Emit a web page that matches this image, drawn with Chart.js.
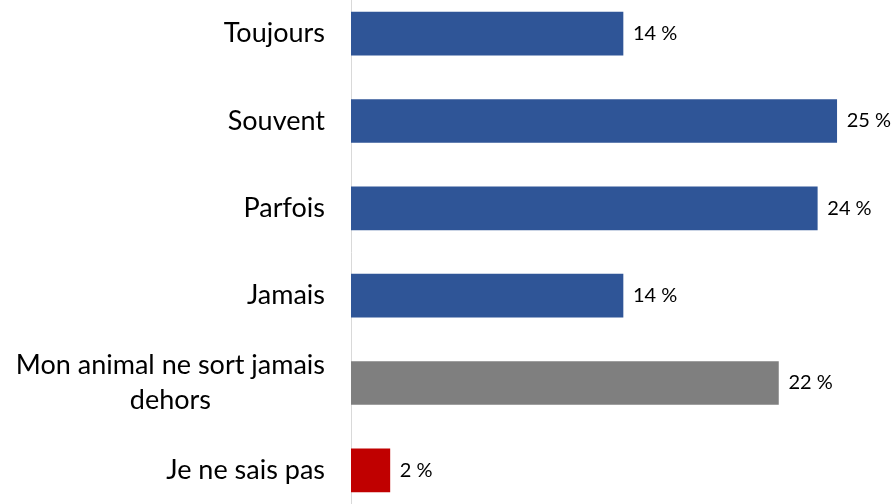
<!DOCTYPE html>
<html>
<head>
<meta charset="utf-8">
<script src="https://cdn.jsdelivr.net/npm/chart.js@4/dist/chart.umd.min.js"></script>
<style>
    html, body { margin: 0; padding: 0; background: #fff; overflow: hidden; }
    #wrap { position: absolute; left: 0; top: -10px; width: 895px; height: 524px; }
</style>
</head>
<body>
<div id="wrap"><canvas id="chart"></canvas></div>
<script>
const categories = ['Toujours', 'Souvent', 'Parfois', 'Jamais', ['Mon animal ne sort jamais', 'dehors'], 'Je ne sais pas'];
const values = [14, 25, 24, 14, 22, 2];
const barColors = ['#2F5597', '#2F5597', '#2F5597', '#2F5597', '#7F7F7F', '#C00000'];

const FONT = 'Lato, "Open Sans", sans-serif';

// category labels: single lines right-aligned, multi-line block centred on itself
const categoryLabels = {
    id: 'categoryLabels',
    afterDraw(chart) {
        const ctx = chart.ctx;
        const yScale = chart.scales.y;
        const right = 325;
        ctx.save();
        ctx.font = '27px ' + FONT;
        ctx.fillStyle = '#000';
        ctx.textBaseline = 'middle';
        ctx.textAlign = 'center';
        categories.forEach((label, i) => {
            const lines = Array.isArray(label) ? label : [label];
            const widest = Math.max(...lines.map(l => ctx.measureText(l).width));
            const cx = right - widest / 2;
            const y0 = yScale.getPixelForValue(i) - (lines.length - 1) * 35 / 2;
            lines.forEach((l, k) => ctx.fillText(l, cx, y0 + k * 35));
        });
        ctx.restore();
    }
};

const valueLabels = {
    id: 'valueLabels',
    afterDatasetsDraw(chart) {
        const ctx = chart.ctx;
        ctx.save();
        ctx.font = '20px ' + FONT;
        ctx.fillStyle = '#000';
        ctx.textBaseline = 'middle';
        ctx.textAlign = 'left';
        chart.getDatasetMeta(0).data.forEach((bar, i) => {
            ctx.fillText(values[i] + ' %', bar.x + 10, bar.y);
        });
        ctx.restore();
    }
};

new Chart(document.getElementById('chart'), {
    type: 'bar',
    data: {
        labels: categories,
        datasets: [{
            data: values,
            backgroundColor: barColors,
            barThickness: 43
        }]
    },
    options: {
        indexAxis: 'y',
        responsive: true,
        maintainAspectRatio: false,
        animation: false,
        layout: { padding: 0 },
        plugins: { legend: { display: false }, tooltip: { enabled: false } },
        scales: {
            x: { display: false, min: 0, max: 28 },
            y: {
                grid: { display: false },
                border: { display: true, color: '#D9D9D9', width: 1 },
                ticks: { display: false },
                afterFit(scale) { scale.width = 351; }
            }
        }
    },
    plugins: [categoryLabels, valueLabels]
});
</script>
</body>
</html>
